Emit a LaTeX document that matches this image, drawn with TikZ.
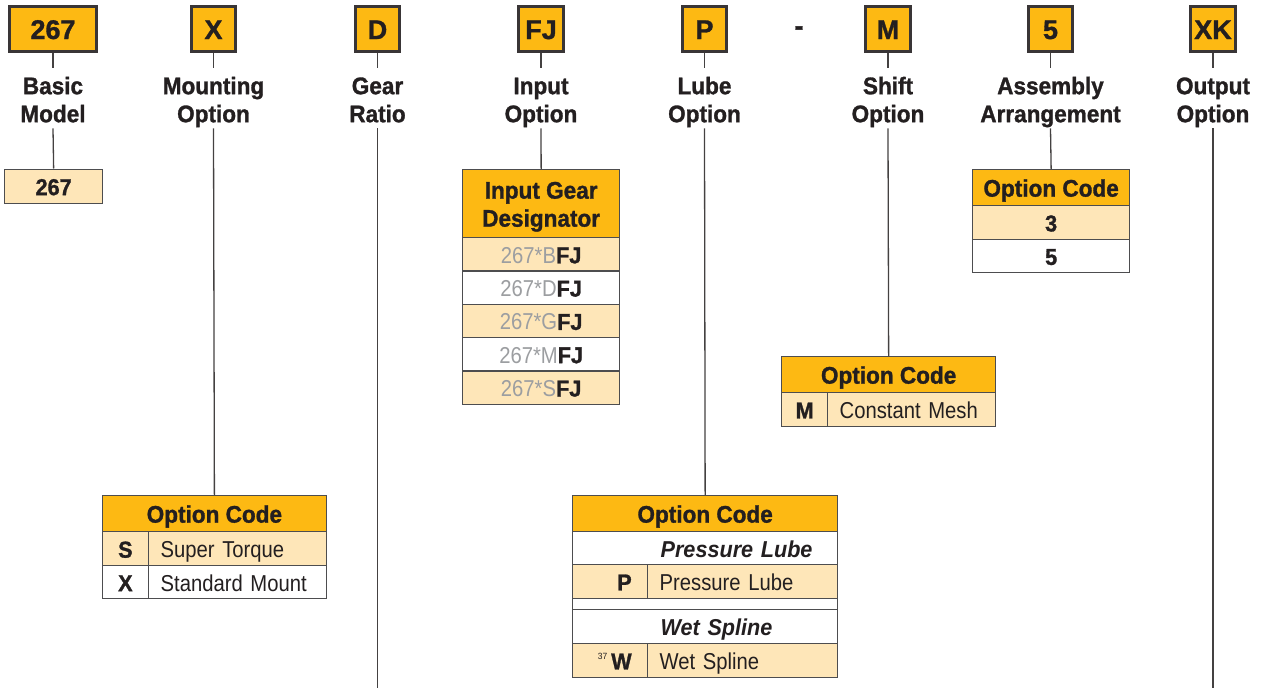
\documentclass[tikz,border=0pt]{standalone}
\usepackage{fontspec}
\setmainfont{Liberation Sans}[FakeStretch=0.88]
\newfontfamily\hdfont{Liberation Sans}[FakeStretch=0.94, BoldFeatures={FakeBold=1.2}]
\newfontfamily\boxfont{Liberation Sans}[BoldFeatures={FakeBold=1.2}]
\usepackage{xcolor}
\definecolor{ink}{HTML}{231F20}
\definecolor{gold}{HTML}{FDB913}
\definecolor{pale}{HTML}{FEE6B8}
\definecolor{rule}{HTML}{4D4D4F}
\definecolor{greytxt}{HTML}{9C9EA1}

\newcommand\gearcode[1]{{\color{greytxt}267*#1}{\hdfont\bfseries FJ}}

\begin{document}
\begin{tikzpicture}[x=1pt, y=-1pt,
  codebox/.style={draw=ink!90, line width=2.6pt, fill=gold, inner sep=0pt,
    minimum width=44.5pt, minimum height=45.5pt, text height=20pt, text depth=0pt,
    font=\boxfont\bfseries\fontsize{27}{27}\selectfont, text=ink},
  caption/.style={anchor=north, align=center, inner xsep=2pt, inner ysep=6pt,
    text height=48pt, text depth=0pt, text=ink,
    font=\hdfont\bfseries\fontsize{24}{28}\selectfont},
  cell/.style={draw=rule, line width=1.3pt, inner sep=0pt, anchor=north west,
    text height=18pt, text depth=0pt, text=ink},
  headcell/.style={cell, fill=gold, font=\hdfont\bfseries\fontsize{24}{28}\selectfont},
  palecell/.style={cell, fill=pale},
  whitecell/.style={cell, fill=white},
  codefont/.style={font=\hdfont\bfseries\fontsize{23}{27}\selectfont},
  descfont/.style={font=\fontsize{23}{27}\selectfont, inner xsep=12pt, align=left},
  italfont/.style={font=\hdfont\bfseries\itshape\fontsize{23}{27}\selectfont, inner xsep=12pt, align=left},
  link/.style={draw=ink!85, line width=1.3pt}]
  \useasboundingbox (0,0) rectangle (1262,688);

  % code boxes along the top
  \node[codebox, minimum width=87.5pt] (bModel) at (53,29) {267};
  \node[codebox] (bMount) at (213.5,29) {X};
  \node[codebox] (bRatio) at (377.5,29) {D};
  \node[codebox] (bInput) at (541,29) {FJ};
  \node[codebox] (bLube) at (704.5,29) {P};
  \node[anchor=base, text=ink, font=\boxfont\bfseries\fontsize{27}{27}\selectfont]
    (dash) at (799,35) {-};
  \node[codebox] (bShift) at (888,29) {M};
  \node[codebox] (bAssy) at (1050.5,29) {5};
  \node[codebox] (bOutput) at (1213,29) {XK};

  % captions
  \node[caption] (cModel) at (53,68) {Basic\\Model};
  \node[caption] (cMount) at (213.5,68) {Mounting\\Option};
  \node[caption] (cRatio) at (377.5,68) {Gear\\Ratio};
  \node[caption] (cInput) at (541,68) {Input\\Option};
  \node[caption] (cLube) at (704.5,68) {Lube\\Option};
  \node[caption] (cShift) at (888,68) {Shift\\Option};
  \node[caption] (cAssy) at (1050.5,68) {Assembly\\Arrangement};
  \node[caption] (cOutput) at (1213,68) {Output\\Option};

  % basic model
  \node[palecell, codefont, minimum width=98pt, minimum height=34pt] (tModel) at (4,168.5) {267};

  % mounting option
  \node[headcell, minimum width=224.5pt, minimum height=36pt] (mHead) at (101.5,495) {Option Code};
  \node[palecell, codefont, minimum width=46.5pt, minimum height=34pt] (mS) at (101.5,531) {S};
  \node[palecell, descfont, text width=154pt, minimum height=34pt] (mSd) at (148,531) {Super Torque};
  \node[whitecell, codefont, minimum width=46.5pt, minimum height=33pt] (mX) at (101.5,565) {X};
  \node[whitecell, descfont, text width=154pt, minimum height=33pt] (mXd) at (148,565) {Standard Mount};

  % input option
  \node[headcell, minimum width=157pt, minimum height=68pt, align=center, text height=46pt]
    (iHead) at (462,169) {Input Gear\\Designator};
  \node[palecell, minimum width=157pt, minimum height=33.3pt, font=\fontsize{23}{27}\selectfont]
    (iB) at (462,237) {\gearcode{B}};
  \node[whitecell, minimum width=157pt, minimum height=33.3pt, font=\fontsize{23}{27}\selectfont]
    (iD) at (462,270.3) {\gearcode{D}};
  \node[palecell, minimum width=157pt, minimum height=33.3pt, font=\fontsize{23}{27}\selectfont]
    (iG) at (462,303.6) {\gearcode{G}};
  \node[whitecell, minimum width=157pt, minimum height=33.3pt, font=\fontsize{23}{27}\selectfont]
    (iM) at (462,336.9) {\gearcode{M}};
  \node[palecell, minimum width=157pt, minimum height=33.3pt, font=\fontsize{23}{27}\selectfont]
    (iS) at (462,370.2) {\gearcode{S}};

  % lube option
  \node[headcell, minimum width=265pt, minimum height=36pt] (lHead) at (572,495) {Option Code};
  \node[whitecell, italfont, text width=241pt, minimum height=33pt]
    (lPt) at (572,531) {\hspace*{76pt}Pressure Lube};
  \node[palecell, codefont, inner xsep=16pt, text width=43pt, align=right, minimum height=33.5pt]
    (lP) at (572,564) {P};
  \node[palecell, descfont, text width=166pt, minimum height=33.5pt] (lPd) at (647,564) {Pressure Lube};
  \node[whitecell, minimum width=265pt, minimum height=11.5pt, text height=0pt] (lGap) at (572,597.5) {};
  \node[whitecell, italfont, text width=241pt, minimum height=34pt]
    (lWt) at (572,609) {\hspace*{76pt}Wet Spline};
  \node[palecell, codefont, inner xsep=16pt, text width=43pt, align=right, minimum height=33.5pt]
    (lW) at (572,643) {\raisebox{10pt}{\fontsize{9}{9}\selectfont\mdseries 37}\hspace{4pt}W};
  \node[palecell, descfont, text width=166pt, minimum height=33.5pt] (lWd) at (647,643) {Wet Spline};

  % shift option
  \node[headcell, minimum width=214pt, minimum height=36pt] (sHead) at (781,356) {Option Code};
  \node[palecell, codefont, minimum width=46pt, minimum height=33.5pt] (sM) at (781,392) {M};
  \node[palecell, descfont, text width=144pt, minimum height=33.5pt] (sMd) at (827,392) {Constant Mesh};

  % assembly arrangement
  \node[headcell, minimum width=157pt, minimum height=36pt] (aHead) at (972,169) {Option Code};
  \node[palecell, codefont, minimum width=157pt, minimum height=33.5pt] (a3) at (972,205) {3};
  \node[whitecell, codefont, minimum width=157pt, minimum height=33.5pt] (a5) at (972,238.5) {5};

  % connectors
  \coordinate (eRatio) at (377.5,688);
  \coordinate (eOutput) at (1213,688);
  \foreach \n in {Model,Mount,Ratio,Input,Lube,Shift,Assy,Output}
    \draw[link] (b\n.south) -- (c\n.north);
  \draw[link] (cModel.south) -- (tModel.north);
  \draw[link] (cMount.south) -- (mHead.north);
  \draw[link] (cRatio.south) -- (eRatio);
  \draw[link] (cInput.south) -- (iHead.north);
  \draw[link] (cLube.south) -- (lHead.north);
  \draw[link] (cShift.south) -- (sHead.north);
  \draw[link] (cAssy.south) -- (aHead.north);
  \draw[link] (cOutput.south) -- (eOutput);
\end{tikzpicture}
\end{document}
